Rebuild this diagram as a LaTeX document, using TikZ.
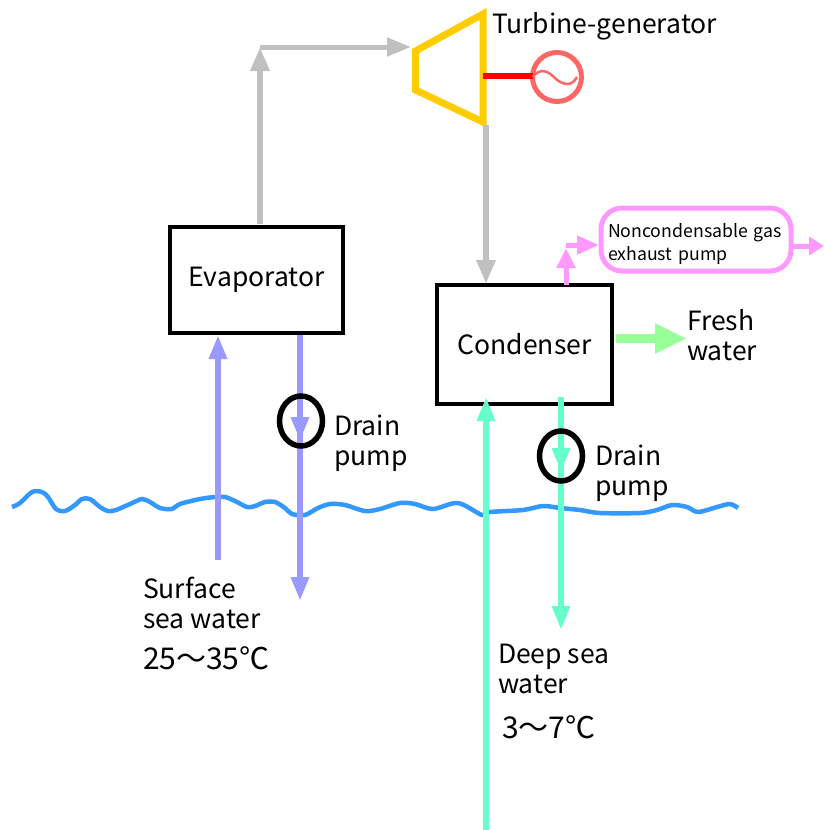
\documentclass[tikz,border=0pt]{standalone}
\usepackage{fontspec}
\setmainfont{Noto Sans CJK JP}
\usetikzlibrary{arrows.meta,shapes.geometric}
\definecolor{steam}{RGB}{192,192,192}
\definecolor{turb}{RGB}{255,204,0}
\definecolor{genc}{RGB}{255,102,102}
\definecolor{purp}{RGB}{153,153,255}
\definecolor{aqua}{RGB}{102,255,204}
\definecolor{pinkc}{RGB}{255,153,255}
\definecolor{fresh}{RGB}{153,255,153}
\definecolor{sea}{RGB}{51,153,255}
\tikzset{
  every node/.style={inner sep=0pt,outer sep=0pt},
  vessel/.style={draw=black,line width=4pt,fill=white,font=\fontsize{26.5}{26.5}\selectfont},
  pumpc/.style={ellipse,draw=black,line width=5.5pt,minimum width=43pt,minimum height=50pt},
  lab/.style={font=\fontsize{26.5}{30}\selectfont,align=left,anchor=north west,text=black},
  temp/.style={font=\fontsize{30}{30}\selectfont,anchor=north west,text=black},
  waterhead/.style={-{Triangle[length=24pt,width=17pt]}},
  steamhead/.style={-{Triangle[length=24pt,width=18pt]}},
  pinkhead/.style={draw=pinkc,line width=5pt,-{Triangle[length=#1,width=18pt]}}
}
\begin{document}
\begin{tikzpicture}[x=1pt,y=-1pt]
\useasboundingbox (0,0) rectangle (823,830);
% sea surface
\draw[sea,line width=4.5pt,line join=round] plot[smooth,tension=0.5] coordinates {(12,507)(20,503)(32,492)(42,492)(48,497)(56,509)(65,511)(75,505)(82,499)(90,499)(100,507)(108,511)(116,510)(130,504)(142,499)(150,502)(160,508)(172,509)(180,504)(200,499)(215,497)(225,497)(235,501)(247,507)(255,506)(265,502)(275,502)(285,508)(292,514)(305,515)(318,508)(330,504)(345,505)(365,511)(380,509)(400,503)(415,504)(433,509)(458,503)(482,515)(490,512)(523,510)(543,506)(560,508)(580,510)(600,513)(640,513)(657,510)(672,505)(687,507)(698,512)(717,507)(730,504)(738,508)};
% vessels
\node[vessel,minimum width=173pt,minimum height=106pt] (evap) at (256.5,280) {Evaporator};
\node[vessel,minimum width=175pt,minimum height=119pt] (cond) at (524.5,344.5) {Condenser};
% turbine
\coordinate (tTL) at (483,14);
\coordinate (tTR) at (483,122);
\coordinate (tL1) at (415.5,51);
\coordinate (tL2) at (415.5,90);
\draw[turb,line width=7pt,line join=miter] (tTL) -- (tL1) -- (tL2) -- (tTR) -- cycle;
\coordinate (tIn) at (411,47);
\coordinate (tOutTop) at (486,125);
\coordinate (evapTop) at (260,224);
\coordinate (evapCorner) at (260,47);
\coordinate (condTop) at (486,284);
\draw[steam,line width=5pt,steamhead] (evapCorner) -- (tIn);
\draw[steam,line width=6pt,steamhead] (evapTop) -- (evapCorner);
\draw[steam,line width=6pt,steamhead] (tOutTop) -- (condTop);
% generator
\node[circle,draw=genc,line width=5pt,minimum size=49pt] (gen) at (557,77) {};
\coordinate (shaft) at (483,76);
\draw[red,line width=6pt] (shaft) -- (shaft -| gen.west);
\draw[genc,line width=2.5pt] (gen.west) .. controls (541,67) and (548,71) .. (556,79) .. controls (562,84) and (571,88) .. (577,77);
% labels top
\node[lab,anchor=west] (tlabel) at (492,26) {Turbine-generator};
% pink exhaust
\node[draw=pinkc,line width=5pt,rounded corners=21pt,minimum width=190pt,minimum height=63pt,fill=white,font=\fontsize{17.7}{23}\selectfont,align=left,text width=176pt] (gas) at (696,239.5) {\rule{0pt}{24pt}Noncondensable gas\\exhaust pump};
\coordinate (pBase) at (566,285);
\coordinate (pOut) at (824,246);
\coordinate (pKnee) at (566,245);
\coordinate (pVTip) at (566,248);
\coordinate (pHTip) at (599,245);
\draw[pinkhead=20pt] (pBase) -- (pVTip);
\draw[pinkhead=22pt] (pKnee) -- (pHTip);
\draw[pinkhead=15pt] (gas.east |- pOut) -- (pOut);
% fresh water
\coordinate (fStart) at (616,338.5);
\coordinate (fEnd) at (687,338.5);
\draw[fresh,line width=8.5pt,-{Triangle[length=32pt,width=28pt]}] (fStart) -- (fEnd);
\node[lab] (flabel) at (687,309) {Fresh\\water};
% evaporator water
\coordinate (sIn) at (218,560);
\coordinate (sOut) at (300,601);
\coordinate (eBot1) at (218,335);
\coordinate (eBot2) at (300,335);
\coordinate (pmpA) at (300,441);
\draw[purp,line width=6pt,waterhead] (sIn) -- (eBot1);
\draw[purp,line width=6pt,waterhead] (eBot2) -- (sOut);
\draw[purp,line width=6pt,waterhead] (eBot2) -- (pmpA);
\node[pumpc] (pump1) at (301,421) {};
\node[lab] (d1) at (334,415) {Drain\\pump};
\node[lab] (s1) at (143,577) {Surface\\sea water};
\node[temp] (t1) at (143,647) {25～35℃};
% condenser water
\coordinate (dIn) at (486,830);
\coordinate (dOut) at (561,630);
\coordinate (cBot1) at (486,397);
\coordinate (cBot2) at (561,397);
\coordinate (pmpB) at (561,472);
\draw[aqua,line width=6pt,waterhead] (dIn) -- (cBot1);
\draw[aqua,line width=6pt,waterhead] (cBot2) -- (dOut);
\draw[aqua,line width=6pt,waterhead] (cBot2) -- (pmpB);
\node[pumpc] (pump2) at (561,456) {};
\node[lab] (d2) at (595,445) {Drain\\pump};
\node[lab] (s2) at (498,644) {Deep sea\\water};
\node[temp] (t2) at (502,716) {3～7℃};
\end{tikzpicture}
\end{document}
